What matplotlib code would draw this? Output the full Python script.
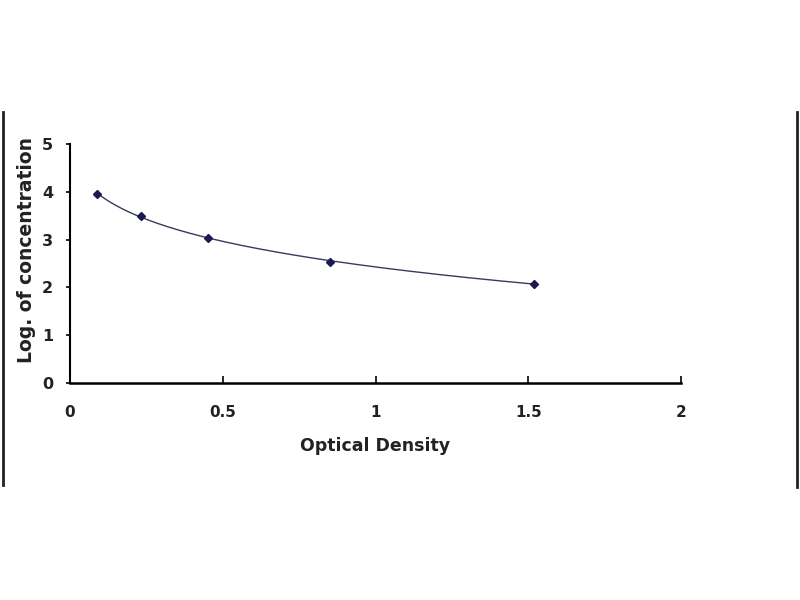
import numpy as np
import matplotlib.pyplot as plt
from matplotlib.lines import Line2D

# Данные стандартной кривой
od = [0.09, 0.232, 0.451, 0.852, 1.52]
log_conc = [3.96, 3.49, 3.03, 2.54, 2.08]
x_ticks = [0, 0.5, 1, 1.5, 2]
y_ticks = [0, 1, 2, 3, 4, 5]

plt.rcParams['font.family'] = 'DejaVu Sans'
plt.rcParams['font.weight'] = 'bold'

fig = plt.figure(figsize=(8, 6), dpi=100)
ax = fig.add_axes([70 / 800, 1 - 383 / 600, 611 / 800, 239 / 600])

# Сглаженная линия тренда (квадратичная по ln x)
coef = np.polyfit(np.log(od), log_conc, 2)
xs = np.linspace(od[0], od[-1], 200)
ax.plot(xs, np.polyval(coef, np.log(xs)), color='#3a3a5a', linewidth=1)
ax.plot(od, log_conc, linestyle='none', marker='D', markersize=4,
        color='#1a1a50')

ax.set_xlim(0, 2)
ax.set_ylim(0, 5)
ax.set_xticks(x_ticks)
ax.set_xticklabels(['0', '0.5', '1', '1.5', '2'])
ax.set_yticks(y_ticks)

for s in ['top', 'right']:
    ax.spines[s].set_visible(False)
ax.spines['left'].set_linewidth(1.5)
ax.spines['bottom'].set_linewidth(1.8)

ax.tick_params(axis='x', direction='in', length=5, width=1.2, pad=16,
               labelsize=11)
ax.tick_params(axis='y', direction='out', length=3, width=1.2, pad=9,
               labelsize=11.5)
for lbl in ax.get_xticklabels() + ax.get_yticklabels():
    lbl.set_fontweight('bold')
    lbl.set_color('#222222')

ax.set_xlabel('Optical Density', fontsize=12.5, fontweight='bold', color='#222222')
ax.xaxis.set_label_coords((375 - 70) / 611, -(437 - 383) / 239)
ax.set_ylabel('Log. of concentration', fontsize=13.5, fontweight='bold', color='#222222')
ax.yaxis.set_label_coords(-(70 - 36) / 611, (383 - 250) / 239)

# Рамки по краям картинки
fig.add_artist(Line2D([3 / 800, 3 / 800], [1 - 485 / 600, 1 - 112 / 600],
                      color='#222222', linewidth=2))
fig.add_artist(Line2D([797 / 800, 797 / 800], [1 - 487 / 600, 1 - 112 / 600],
                      color='#222222', linewidth=2))

fig.savefig('out.png', dpi=100)
